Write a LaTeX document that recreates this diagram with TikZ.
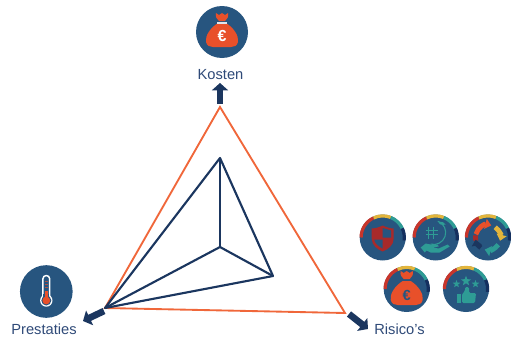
\documentclass[tikz,border=0pt]{standalone}
\usepackage{fontspec}
\setmainfont{Liberation Sans}
\usetikzlibrary{arrows.meta,shapes.geometric}
\definecolor{disc}{HTML}{27557F}
\definecolor{navy}{HTML}{1B365F}
\definecolor{orng}{HTML}{F0673A}
\definecolor{bagred}{HTML}{E8502A}
\definecolor{txt}{HTML}{2F4A78}
\definecolor{rimred}{HTML}{C8352B}
\definecolor{rimyel}{HTML}{E3B53B}
\definecolor{rimteal}{HTML}{2E9C95}
\definecolor{rimnavy}{HTML}{15305F}
\definecolor{shieldred}{HTML}{A82A2A}
\tikzset{
  lab/.style={font=\fontsize{11pt}{13pt}\selectfont,text=txt,inner sep=0pt},
  tri/.style={draw=orng,line width=1.4pt,line join=miter},
  web/.style={draw=navy,line width=1.6pt,line join=round},
  blockarrow/.style={draw=navy,line width=5pt,-{Triangle[length=5.5pt,width=12pt]}},
  rim/.style={line width=2.4pt},
  disk/.style={circle,fill=disc,draw=none,minimum size=#1,inner sep=0pt},
  tealstar/.style={star,star points=5,star point ratio=2.4,fill=rimteal,draw=none,inner sep=0pt,minimum size=#1},
  bag/.pic={
    \fill[bagred] (-3,-10) .. controls (-5,-12) and (-7,-14) .. (-6,-18) -- (-3,-16) -- (0,-18) -- (3,-16) -- (6,-18) .. controls (7,-14) and (5,-12) .. (3,-10) -- cycle;
    \fill[bagred] (-4,-8) .. controls (-12,-3) and (-17,5) .. (-16,11) .. controls (-15,15) and (-12,16) .. (-9,16) -- (9,16) .. controls (12,16) and (15,15) .. (16,11) .. controls (17,5) and (12,-3) .. (4,-8) -- cycle;
  },
  rimset/.pic={
    \begin{scope}[yscale=-1]
    \draw[rim,rimred] (180:21.6) arc (180:115:21.6);
    \draw[rim,rimyel] (115:21.6) arc (115:68:21.6);
    \draw[rim,rimteal] (68:21.6) arc (68:25:21.6);
    \draw[rim,rimnavy] (25:21.6) arc (25:-8:21.6);
    \end{scope}
  }
}
\begin{document}
\begin{tikzpicture}[x=0.75pt,y=-0.75pt]
\useasboundingbox (0,0) rectangle (511,336);
% vertices
\coordinate (otop) at (220,107);
\coordinate (oleft) at (105,308);
\coordinate (oright) at (345,313);
\coordinate (ntop) at (220,158);
\coordinate (nright) at (273,276);
\coordinate (ncentre) at (220,247);
% arrow ends
\coordinate (atops) at (220,104);
\coordinate (atope) at (220,83);
\coordinate (alefts) at (104,311);
\coordinate (alefte) at (83,321);
\coordinate (arights) at (349,314);
\coordinate (arighte) at (368,329);
% triangles
\draw[tri] (otop) -- (oright) -- (oleft) -- cycle;
\draw[web] (ntop) -- (nright) -- (oleft) -- cycle;
\draw[web] (ncentre) -- (ntop);
\draw[web] (ncentre) -- (nright);
\draw[web] (ncentre) -- (oleft);
% arrows
\draw[blockarrow] (atops) -- (atope);
\draw[blockarrow] (alefts) -- (alefte);
\draw[blockarrow] (arights) -- (arighte);
% labels
\node[lab] (kosten) at (220.5,75) {Kosten};
\node[lab] (prestaties) at (44,329) {Prestaties};
\node[lab] (risicos) at (399.5,329) {Risico’s};
% top icon
\node[disk=39pt] (ikosten) at (222,32) {};
\begin{scope}[shift={(222,31)},xscale=.8,yscale=.93]
  \pic {bag};
  \fill[white!85!disc] (-6,-10) rectangle (6,-7.5);
\end{scope}
\node[inner sep=0pt,text=white,font=\bfseries\fontsize{12pt}{12pt}\selectfont] (ke) at (222,36) {€};
% left icon
\node[disk=39.5pt] (iprest) at (46.3,291.5) {};
\begin{scope}[shift={(46.3,291.5)}]
  \fill[white] (0,9) circle (6.2);
  \draw[white,line width=1.1pt,rounded corners=2.5pt] (-3.4,5) -- (-3.4,-16) -- (3.4,-16) -- (3.4,5);
  \fill[disc] (0,9) circle (5);
  \fill[disc] (-2.9,2) rectangle (2.9,8);
  \fill[bagred] (0,9) circle (3.9);
  \fill[bagred] (-1.2,-1) rectangle (1.2,9);
  \foreach \yy in {-11,-8,-5} \fill[bagred!70!disc] (-1.2,\yy) rectangle (1.2,\yy+.9);
\end{scope}
% risk icons
\node[disk=34.5pt] (ishield) at (382.7,237.5) {};
\pic at (382.7,237.5) {rimset};
\begin{scope}[shift={(382.7,238.5)}]
  \fill[shieldred] (0,-13) .. controls (-4,-11) and (-8,-10) .. (-11,-10) -- (-11,0) .. controls (-11,7) and (-5,11) .. (0,13) .. controls (5,11) and (11,7) .. (11,0) -- (11,-10) .. controls (8,-10) and (4,-11) .. (0,-13) -- cycle;
  \fill[disc] (0,-10.5) -- (8.5,-8) -- (8.5,-1) -- (0,-1) -- cycle;
  \fill[disc] (-8.5,1) -- (0,1) -- (0,10) .. controls (-4,8) and (-8,5) .. (-8.5,1) -- cycle;
\end{scope}
\node[disk=34.5pt] (iglobe) at (435.7,237.5) {};
\pic at (435.7,237.5) {rimset};
\begin{scope}[shift={(435.7,237.5)}]
  \begin{scope}[yscale=-1]
    \draw[rimteal,line width=.8pt] (-2,5) ++(70:12) arc (70:-105:12);
    \fill[rimteal] (3,16) .. controls (6,16) and (9,15) .. (10,13) .. controls (6,12) and (3,13) .. (3,16) -- cycle;
  \end{scope}
  \draw[rimteal,line width=.55pt] (-10,-7) -- (2,-7) (-10,-3) -- (2,-3) (-7,-11) -- (-7,1) (-2,-11) -- (-2,1);
  \fill[rimteal] (-15,10) -- (-10,6) -- (-5,7) -- (2,7) -- (3,9) -- (-3,10) -- (3,11) -- (12,7) -- (14,9) -- (4,15) -- (-5,15) -- (-9,13) -- (-11,15) -- cycle;
\end{scope}
\node[disk=34.5pt] (icycle) at (488,237.5) {};
\pic at (488,237.5) {rimset};
\begin{scope}[shift={(488,237.5)},yscale=-1]
  \draw[shieldred,line width=3.6pt] (195:12.5) arc (195:170:12.5);
  \draw[bagred,line width=3.6pt,-{Triangle[length=4.5pt,width=7.5pt]}] (165:12.5) arc (165:75:12.5);
  \draw[rimyel,line width=3.6pt,-{Triangle[length=4.5pt,width=7.5pt]}] (55:12.5) arc (55:-15:12.5);
  \draw[rimteal,line width=3.6pt,-{Triangle[length=4.5pt,width=7.5pt]}] (-35:12.5) arc (-35:-105:12.5);
  \draw[navy,line width=3.6pt,-{Triangle[length=4.5pt,width=7.5pt]}] (-125:12.5) arc (-125:-170:12.5);
\end{scope}
\node[disk=34.5pt] (imoney) at (406.7,289) {};
\pic at (406.7,289) {rimset};
\begin{scope}[shift={(406.7,289)},xscale=.8,yscale=.88]
  \pic {bag};
\end{scope}
\node[inner sep=0pt,text=disc,font=\bfseries\fontsize{11pt}{11pt}\selectfont] (me) at (406.7,295) {€};
\node[disk=34.5pt] (ithumb) at (466,289) {};
\pic at (466,289) {rimset};
\node[tealstar=6pt] (s1) at (456.5,284) {};
\node[tealstar=8pt] (s2) at (466,281) {};
\node[tealstar=6pt] (s3) at (475.5,284) {};
\fill[rimteal] (457,294) rectangle (461,303);
\fill[rimteal,rounded corners=1pt] (462,294) -- (465,291) -- (465,287) -- (469,287) -- (469,293) -- (476,293) -- (475,303) -- (462,303) -- cycle;
\end{tikzpicture}
\end{document}
